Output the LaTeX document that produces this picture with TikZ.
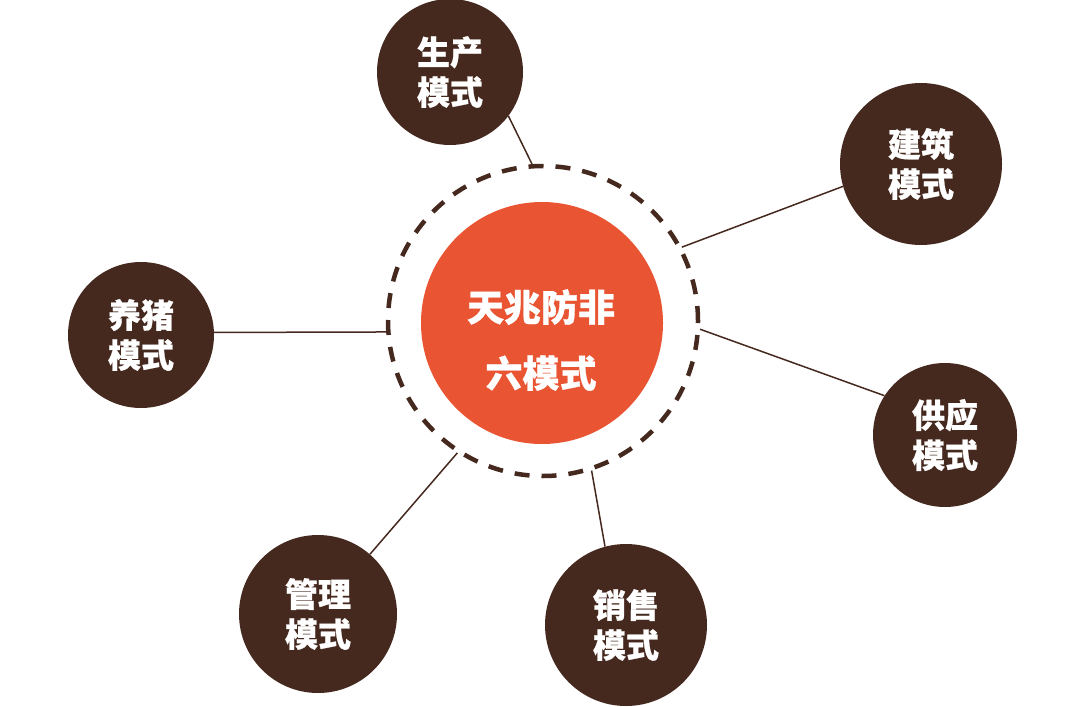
\documentclass[tikz,border=0pt]{standalone}
\usepackage{fontspec}
\newfontfamily\cjk{Noto Sans CJK SC}[BoldFeatures={FakeBold=0.8}]
\usetikzlibrary{positioning}
\definecolor{marron}{HTML}{45291F}
\definecolor{naranja}{HTML}{E95533}
\tikzset{
	x=1pt, y=-1pt, % Un pixel por punto, eje y hacia abajo
	modo/.style={circle, fill=marron, text=white, inner sep=0pt, align=center,
		font=\cjk\bfseries\fontsize{33}{40}\selectfont}, % Circulos exteriores
	anillo punteado/.style={circle, draw=marron, line width=4.5pt,
		dash pattern=on 15pt off 12pt}, % Circulo discontinuo
	enlace/.style={draw=marron, line width=1.5pt} % Lineas entre circulos
}

\begin{document}
\begin{tikzpicture}
	\useasboundingbox (0,0) rectangle (1083,706);
	\node[anillo punteado, minimum size=310pt] (anillo) at (543,321) {};
	\node[circle, fill=naranja, minimum size=242pt] (centro) at (542,323) {};
	\node[text=white, align=center, font=\cjk\bfseries\fontsize{37}{66}\selectfont] (titulo) at (541,340) {天兆防非\\六模式};
	\node[modo, minimum size=146pt] (produccion) at (450,72) {生产\\模式};
	\node[modo, minimum size=162pt] (construccion) at (921,164) {建筑\\模式};
	\node[modo, minimum size=146pt] (cria) at (141,335) {养猪\\模式};
	\node[modo, minimum size=144pt] (suministro) at (945,435) {供应\\模式};
	\node[modo, minimum size=158pt] (gestion) at (318,614) {管理\\模式};
	\node[modo, minimum size=162pt] (ventas) at (626,625) {销售\\模式};
	\draw[enlace] (anillo.94) -- (produccion.-37.5)
		(anillo.28.6) -- (construccion.196.4)
		(anillo.184.4) -- (cria.2.3)
		(anillo.-3.3) -- (suministro.147.1)
		(anillo.237) -- (gestion.49.6)
		(anillo.-72.5) -- (ventas.105.4);
\end{tikzpicture}
\end{document}
